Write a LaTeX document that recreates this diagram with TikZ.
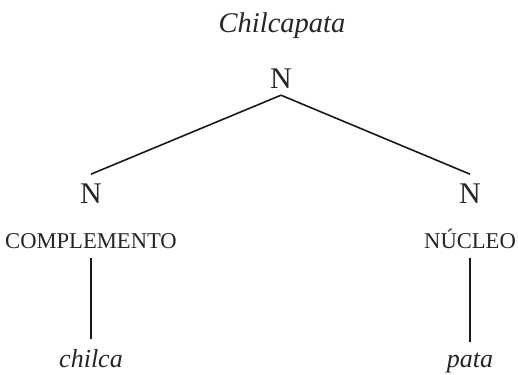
\documentclass[tikz,border=0pt]{standalone}
\usepackage{fontspec}
\setmainfont{Liberation Serif}
\begin{document}
\begin{tikzpicture}[x=1pt,y=-1pt,
  lbl/.style={inner sep=0pt,anchor=base,text=black!85},
  cat/.style={lbl,font=\fontsize{30}{30}\selectfont},
  title/.style={lbl,font=\fontsize{28.5}{30}\selectfont\itshape},
  func/.style={lbl,font=\fontsize{22.6}{24}\selectfont},
  word/.style={lbl,font=\fontsize{26}{28}\selectfont\itshape},
  edge/.style={line width=1.6pt,black!90}]
\useasboundingbox (0,0) rectangle (518,374);
\node[title] (t) at (282,33) {Chilcapata};
\node[cat] (root) at (281,89) {N};
\node[cat] (nl) at (91,203) {N};
\node[cat] (nr) at (470,203) {N};
\node[func] (fl) at (91,248) {COMPLEMENTO};
\node[func] (fr) at (470,248) {NÚCLEO};
\node[word] (wl) at (91,367) {chilca};
\node[word] (wr) at (470,367) {pata};
\draw[edge] ([yshift=-6pt]root.south) -- ([yshift=9pt]nl.north);
\draw[edge] ([yshift=-6pt]root.south) -- ([yshift=9pt]nr.north);
\draw[edge] ([yshift=-10pt]fl.south) -- ([yshift=10pt]wl.north);
\draw[edge] ([yshift=-10pt]fr.south) -- ([yshift=10pt]wr.north);
\end{tikzpicture}
\end{document}
